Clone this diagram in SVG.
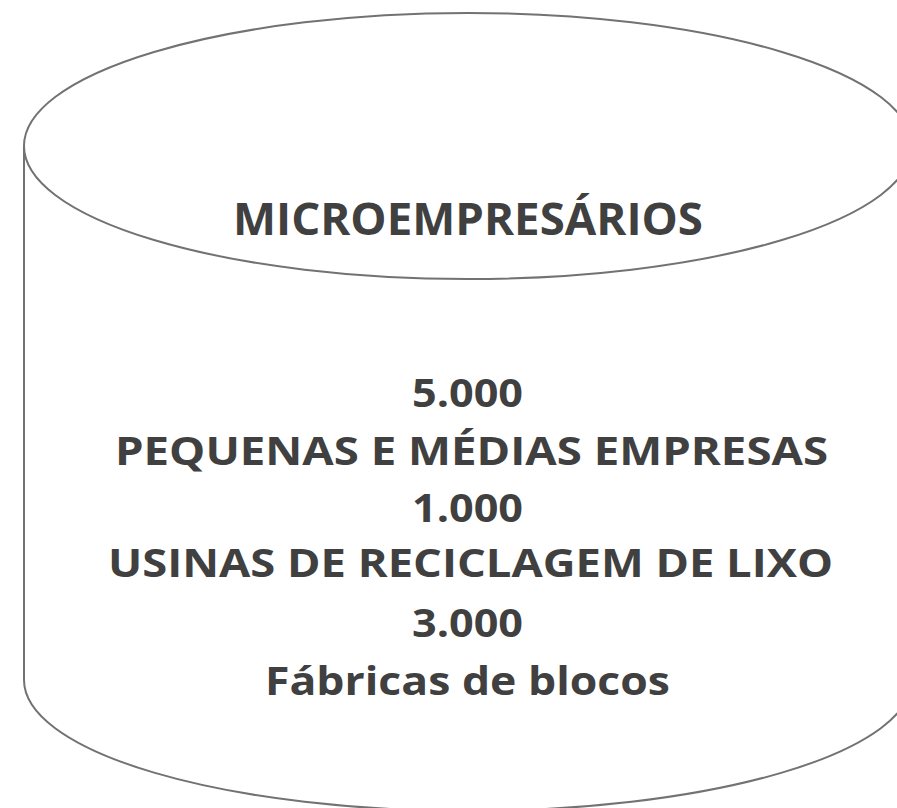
<svg xmlns="http://www.w3.org/2000/svg" width="897" height="808" viewBox="0 0 897 808">
<style>
.shape{fill:#ffffff;stroke:#727272;stroke-width:2}
.t{font-family:"Open Sans",Inter,"Liberation Sans",sans-serif;font-weight:700;fill:#404040;text-anchor:middle}
.title{font-size:44px}
.body{font-size:40px}
</style>
<rect width="897" height="808" fill="#ffffff"/>
<g id="cylinder">
<path class="shape" d="M24,146 L24,680 A444,131 0 0 0 912,680 L912,146"/>
<ellipse class="shape" cx="468" cy="146" rx="444" ry="133"/>
</g>
<g id="title">
<text class="t title" x="468" y="235" textLength="470" lengthAdjust="spacingAndGlyphs">MICROEMPRESÁRIOS</text>
</g>
<g id="body">
<text class="t body" x="467.5" y="407" textLength="111" lengthAdjust="spacingAndGlyphs">5.000</text>
<text class="t body" x="471.5" y="465" textLength="713" lengthAdjust="spacingAndGlyphs">PEQUENAS E MÉDIAS EMPRESAS</text>
<text class="t body" x="467.5" y="522" textLength="111" lengthAdjust="spacingAndGlyphs">1.000</text>
<text class="t body" x="470.5" y="577" textLength="725" lengthAdjust="spacingAndGlyphs">USINAS DE RECICLAGEM DE LIXO</text>
<text class="t body" x="467.5" y="637" textLength="111" lengthAdjust="spacingAndGlyphs">3.000</text>
<text class="t body" x="467.5" y="695" textLength="405" lengthAdjust="spacingAndGlyphs">Fábricas de blocos</text>
</g>
</svg>
